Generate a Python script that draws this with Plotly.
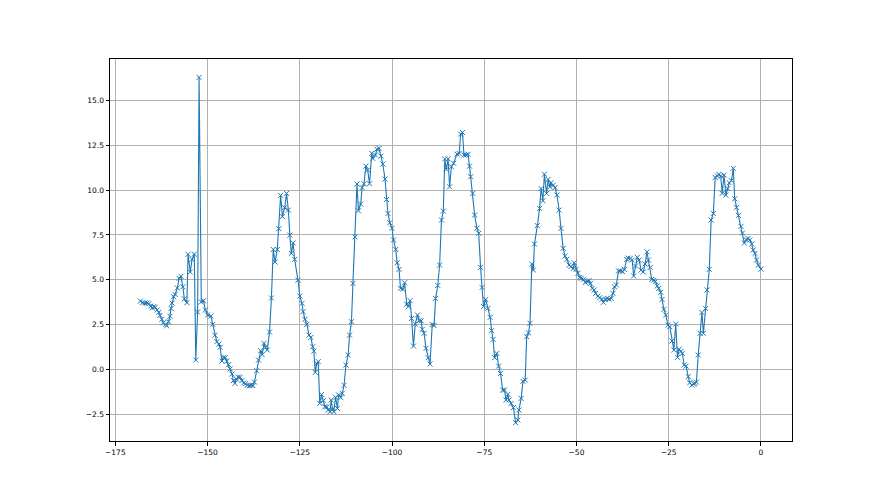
import plotly.graph_objects as go

# valores, por trechos
t_1 = [-168.2, -167.6, -167.0, -166.4, -165.9, -165.4, -165.0, -164.6, -164.2, -163.7,
       -163.2, -162.9, -162.4, -162.0, -161.4, -161.1, -160.6, -160.2, -159.9, -159.6,
       -159.2, -158.8, -158.2, -157.7, -157.2, -156.7, -156.3, -155.6, -155.3, -154.7,
       -154.2, -153.6, -153.2, -152.7, -152.3, -151.7, -151.1, -150.6, -150.0]
v_1 = [3.81, 3.72, 3.70, 3.70, 3.66, 3.53, 3.42, 3.50, 3.46, 3.31,
       3.18, 3.01, 2.79, 2.60, 2.51, 2.43, 2.66, 2.96, 3.40, 3.70,
       4.05, 4.18, 4.54, 5.08, 5.19, 4.61, 3.94, 3.72, 6.42, 5.43,
       6.14, 6.43, 0.52, 3.20, 16.29, 3.76, 3.83, 3.31, 3.03]

t_2 = [-149.1, -148.6, -148.0, -147.5, -146.9, -146.6, -146.1, -145.7, -145.2, -144.8,
       -144.3, -143.9, -143.4, -143.0, -142.6, -142.2, -141.7, -141.2, -140.7, -140.2,
       -139.7, -139.2, -138.7, -138.3, -137.7, -137.3, -136.7, -136.2, -135.6, -135.2,
       -134.7, -134.3, -133.8, -133.2, -132.7, -132.2, -131.7, -131.1, -130.7, -130.2,
       -129.7, -129.1, -128.6, -128.1, -127.7, -127.3, -126.8, -126.4]
v_2 = [2.97, 2.51, 1.90, 1.54, 1.41, 1.23, 0.46, 0.67, 0.65, 0.46,
       0.26, 0.02, -0.26, -0.63, -0.78, -0.54, -0.43, -0.45, -0.63, -0.76,
       -0.80, -0.89, -0.91, -0.89, -0.91, -0.71, -0.08, 0.52, 1.04, 0.82,
       1.45, 1.23, 1.08, 2.08, 3.98, 6.69, 5.99, 6.69, 7.85, 9.71,
       8.52, 9.02, 9.82, 8.89, 7.49, 6.47, 7.05, 6.14]

t_3 = [-125.5, -125.0, -124.4, -124.1, -123.6, -123.1, -122.5, -122.0, -121.5, -121.2,
       -120.8, -120.4, -120.0, -119.6, -119.1, -118.6, -118.2, -117.7, -117.3, -116.8,
       -116.5, -116.1, -115.8, -115.3, -114.8, -114.5, -113.9, -113.5, -113.0, -112.5,
       -111.9, -111.5, -111.0, -110.6, -110.0, -109.5, -109.1, -108.5, -108.1, -107.6,
       -107.1, -106.6, -106.1, -105.5, -105.2]
v_3 = [4.98, 4.09, 3.68, 3.22, 2.79, 2.51, 1.91, 1.78, 1.26, 1.02,
       -0.17, 0.33, 0.43, -1.90, -1.40, -1.75, -2.09, -2.10, -2.27, -2.36,
       -1.71, -2.23, -2.36, -1.56, -2.18, -1.43, -1.58, -1.34, -0.89, 0.24,
       0.80, 1.91, 2.66, 4.80, 7.39, 10.34, 8.85, 9.22, 10.14, 10.36,
       11.34, 11.12, 10.36, 12.05, 11.77]

t_4 = [-104.5, -104.1, -103.5, -103.0, -102.5, -101.9, -101.5, -101.1, -100.6, -100.0,
       -99.6, -99.0, -98.6, -98.1, -97.7, -97.1, -96.6, -96.0, -95.6, -95.1,
       -94.7, -94.2, -93.7, -93.1, -92.6, -92.1, -91.8, -91.3, -90.8, -90.2,
       -89.7, -89.1, -88.6, -88.2, -87.6, -87.1, -86.6, -86.1, -85.7, -85.3,
       -84.8, -84.4, -83.9, -83.3]
v_4 = [11.96, 12.28, 12.33, 11.90, 11.46, 10.62, 9.48, 8.70, 8.18, 7.87,
       7.22, 6.69, 5.95, 5.58, 4.52, 4.48, 4.83, 3.63, 3.50, 3.83,
       2.84, 1.30, 2.53, 3.03, 2.71, 2.71, 2.23, 2.01, 1.17, 0.65,
       0.30, 2.51, 2.45, 3.96, 4.68, 5.82, 8.33, 8.83, 11.74, 11.16,
       11.75, 10.19, 11.31, 11.50]

t_5 = [-82.4, -81.8, -81.4, -80.9, -80.5, -80.0, -79.4, -79.0, -78.7, -78.1,
       -77.6, -77.0, -76.5, -76.0, -75.6, -75.2, -74.6, -74.0, -73.4, -73.0,
       -72.6, -72.2, -71.6, -71.1, -70.6, -70.0, -69.5, -69.1, -68.6, -68.3,
       -67.7, -67.1, -66.5, -65.9, -65.6, -65.0, -64.5, -63.9, -63.5, -63.0,
       -62.6, -62.1, -61.7, -61.4]
v_5 = [12.01, 12.05, 13.13, 13.22, 11.96, 11.96, 12.00, 11.34, 10.75, 9.82,
       8.61, 7.87, 7.59, 5.69, 4.57, 3.50, 3.90, 3.40, 2.90, 2.16,
       1.67, 0.65, 0.89, 0.18, -0.23, -1.16, -1.16, -1.71, -1.40, -1.71,
       -1.90, -2.14, -2.98, -2.83, -2.27, -1.62, -0.67, -0.60, 1.82, 2.04,
       2.57, 5.88, 5.54, 6.99]

t_6 = [-60.6, -60.0, -59.6, -59.1, -58.7, -58.1, -57.7, -57.2, -56.9, -56.3,
       -55.8, -55.3, -54.7, -54.2, -53.6, -53.1, -52.6, -52.0, -51.5, -50.9,
       -50.6, -50.1, -49.6, -49.1, -48.7, -48.1, -47.6, -47.1, -46.6, -46.2,
       -45.7, -45.2, -44.8, -44.2, -43.7, -43.1, -42.7, -42.2, -41.7, -41.2,
       -40.6, -40.1, -39.7]
v_6 = [8.02, 8.98, 10.09, 9.41, 10.89, 9.82, 10.60, 10.19, 10.41, 10.28,
       10.14, 9.73, 8.89, 7.87, 6.75, 6.32, 6.14, 5.82, 5.73, 5.62,
       5.95, 5.58, 5.36, 5.13, 5.08, 5.02, 4.85, 4.91, 4.95, 4.80,
       4.52, 4.43, 4.24, 4.09, 4.00, 3.90, 3.74, 3.90, 3.96, 3.92,
       3.96, 4.24, 4.61]

t_7 = [-39.2, -38.6, -38.1, -37.5, -37.0, -36.4, -36.0, -35.4, -34.9, -34.5,
       -34.0, -33.5, -33.0, -32.5, -31.9, -31.4, -30.9, -30.5, -30.0, -29.6,
       -29.1, -28.6, -28.1, -27.7, -27.2, -26.8, -26.3, -25.8, -25.2, -24.7,
       -24.1, -23.6, -23.1, -22.6, -22.2, -21.7, -21.3, -20.8, -20.3, -19.7,
       -19.3, -18.7, -18.2]
v_7 = [4.71, 5.49, 5.50, 5.45, 5.58, 6.14, 6.21, 6.19, 6.10, 5.21,
       5.77, 6.25, 6.10, 5.54, 5.43, 5.88, 6.56, 6.10, 5.69, 5.02,
       4.98, 4.91, 4.65, 4.52, 4.30, 3.90, 3.35, 3.03, 2.47, 2.38,
       1.58, 1.08, 2.53, 0.67, 1.12, 0.99, 0.89, 0.24, 0.18, -0.41,
       -0.75, -0.88, -0.82]

t_8 = [-17.9, -17.5, -17.0, -16.5, -16.0, -15.6, -15.0, -14.6, -14.0, -13.5,
       -12.9, -12.4, -11.8, -11.4, -10.9, -10.5, -10.0, -9.5, -9.0, -8.6,
       -8.0, -7.5, -7.1, -6.6, -6.1, -5.4, -5.0, -4.5, -4.0, -3.5,
       -3.0, -2.5, -2.1, -1.6, -1.2, -0.7, 0.0]
v_8 = [-0.78, -0.71, 0.80, 2.01, 3.17, 2.01, 3.40, 4.43, 5.58, 8.33,
       8.70, 10.71, 10.79, 10.88, 10.79, 9.82, 10.84, 9.73, 10.09, 10.41,
       10.53, 11.22, 9.52, 9.04, 8.59, 7.98, 7.61, 7.05, 7.24, 7.30,
       7.22, 6.99, 6.66, 6.47, 6.10, 5.82, 5.59]

x_ticks = [-175, -150, -125, -100, -75, -50, -25, 0]
y_ticks = [-2.5, 0.0, 2.5, 5.0, 7.5, 10.0, 12.5, 15.0]

t = t_1 + t_2 + t_3 + t_4 + t_5 + t_6 + t_7 + t_8
v = v_1 + v_2 + v_3 + v_4 + v_5 + v_6 + v_7 + v_8

azul = '#1f77b4'

fig = go.Figure(go.Scatter(
    x=t, y=v,
    mode='lines+markers',
    line=dict(color=azul, width=1.1),
    marker=dict(symbol='x-thin', size=5, color=azul, line=dict(width=1, color=azul)),
    showlegend=False,
))

eixo = dict(
    showline=True, mirror=True, linecolor='black', linewidth=1,
    showgrid=True, gridcolor='#b0b0b0', gridwidth=0.8, zeroline=False,
    ticks='outside', ticklen=3.5, tickwidth=0.8, tickcolor='black',
    tickfont=dict(family='DejaVu Sans', size=7.5, color='black'),
)

# a página tem 8px de margem no body: compensado nas margens do gráfico
fig.update_layout(
    width=880, height=495,
    margin=dict(l=102, r=96, t=51, b=62),
    paper_bgcolor='white', plot_bgcolor='white',
    xaxis=dict(eixo, range=[-176.45, 8.42], tickvals=x_ticks,
               ticktext=[f'{v:d}'.replace('-', '\u2212') for v in x_ticks]),
    yaxis=dict(eixo, range=[-4.0, 17.32], tickvals=y_ticks,
               ticktext=[f'{v:.1f}'.replace('-', '\u2212') for v in y_ticks]),
)

fig.write_html('out.html')
